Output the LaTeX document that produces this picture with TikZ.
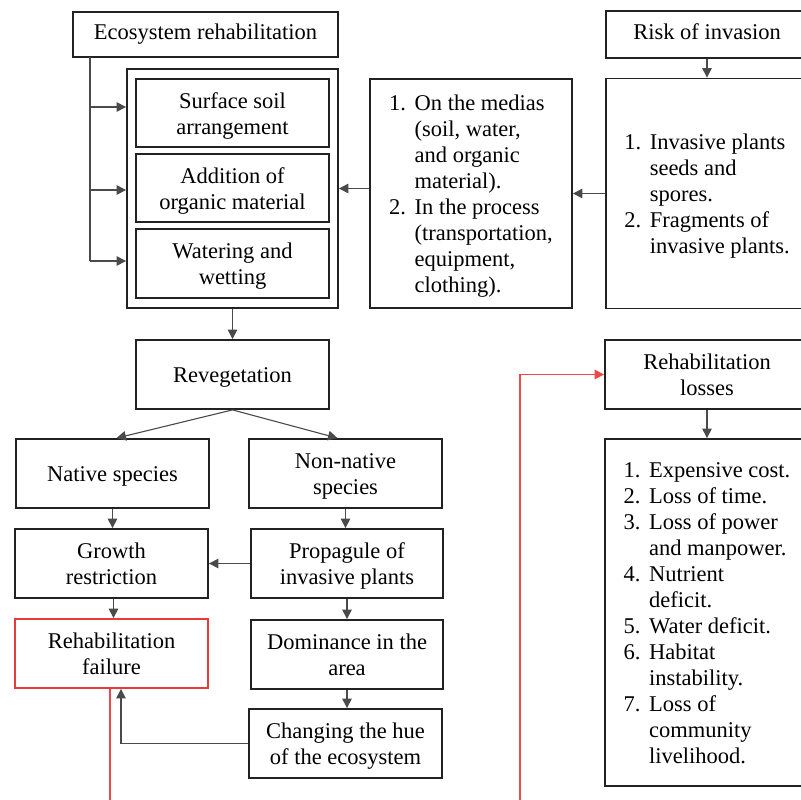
\documentclass[tikz,border=0pt]{standalone}
\usepackage{fontspec}
\setmainfont{Liberation Serif}
\usetikzlibrary{arrows.meta}
\definecolor{boxline}{HTML}{222222}
\definecolor{conn}{HTML}{4A4A4A}
\definecolor{redbox}{HTML}{E83A3A}
\definecolor{redline}{HTML}{F04848}
\newcommand{\itm}[1]{\makebox[25.5pt][l]{#1}}
\newcommand{\ind}{\hspace*{25.5pt}}
\newcommand{\vst}{\rule[-6pt]{0pt}{28pt}}
\tikzset{
  txt/.style={font=\fontsize{22.5}{26}\selectfont, execute at begin node=\vst, execute at end node=\vst},
  bx/.style={draw=boxline, line width=1.8pt, inner sep=0pt, align=center, txt, minimum width=#1},
  bx/.default=193pt,
  lst/.style={draw=boxline, line width=1.8pt, inner sep=0pt, align=left, txt, minimum width=202pt},
  arr/.style={draw=conn, line width=1.1pt, -{Triangle[length=9.5pt,width=9.5pt]}},
  ln/.style={draw=conn, line width=1.1pt},
  redarr/.style={draw=redline, line width=1.1pt, -{Triangle[length=9.5pt,width=9.5pt]}},
  redln/.style={draw=redline, line width=1.1pt}
}
\begin{document}
\begin{tikzpicture}[x=1pt,y=-1pt]
\useasboundingbox (0,0) rectangle (801,800);
\fill[white] (0,0) rectangle (801,800);

% top left
\node[bx=265pt, minimum height=45pt] (eco) at (205.5,34.5) {\raisebox{2.5pt}{Ecosystem rehabilitation}};
\node[draw=boxline, line width=1.8pt, minimum width=211pt, minimum height=239pt, inner sep=0pt] (outer) at (232.5,188.5) {};
\node[bx, minimum height=68pt] (surface) at (232.5,113) {\vst Surface soil\\arrangement};
\node[bx, minimum height=68pt] (addition) at (232.5,188) {\vst Addition of\\organic material};
\node[bx, minimum height=69pt] (watering) at (232.5,263.5) {\vst Watering and\\wetting};

% medias
\node[lst, minimum height=229pt] (medias) at (471,193.5)
 {\vst\itm{1.}On the medias\\\ind(soil, water,\\\ind and organic\\\ind material).\\
  \itm{2.}In the process\\\ind(transportation,\\\ind equipment,\\\ind clothing).};

% risk
\node[bx=202pt, minimum height=47pt] (risk) at (707,34.5) {\raisebox{3pt}{Risk of invasion}};
\node[lst, minimum height=230pt] (invasive) at (707,193.5)
 {\vst\itm{1.}Invasive plants\\\ind seeds and\\\ind spores.\\
  \itm{2.}Fragments of\\\ind invasive plants.};

% middle
\node[bx, minimum height=69pt] (reveg) at (232.5,374.5) {Revegetation};
\node[bx, minimum height=69pt] (native) at (112.5,473.5) {Native species};
\node[bx, minimum height=69pt] (nonnative) at (345.5,473.5) {\vst Non-native\\species};
\node[bx, minimum height=69pt] (growth) at (111.5,563.5) {\vst Growth\\restriction};
\node[bx=192pt, minimum height=69pt] (propagule) at (347,563.5) {\vst Propagule of\\invasive plants};
\node[bx, draw=redbox, minimum height=69pt] (failure) at (111.5,653.5) {\vst Rehabilitation\\failure};
\node[bx=192pt, minimum height=69pt] (dominance) at (347,654.5) {\vst Dominance in the\\area};
\node[bx, minimum height=69pt] (hue) at (345.5,743.5) {\vst Changing the hue\\of the ecosystem};

% losses
\node[bx=204pt, minimum height=69pt] (losses) at (707,374.5) {\vst Rehabilitation\\losses};
\node[lst, minimum width=204pt, minimum height=347pt] (losslist) at (707,612.5)
 {\vst\itm{1.}Expensive cost.\\\itm{2.}Loss of time.\\\itm{3.}Loss of power\\\ind and manpower.\\
  \itm{4.}Nutrient\\\ind deficit.\\\itm{5.}Water deficit.\\\itm{6.}Habitat\\\ind instability.\\
  \itm{7.}Loss of\\\ind community\\\ind livelihood.};

% coordinates
\coordinate (b0) at (90,57);
\coordinate (t1) at (90,107);
\coordinate (t2) at (90,190);
\coordinate (t3) at (90,261);
\coordinate (r1) at (110,810);
\coordinate (r2) at (520,810);

% connectors
\draw[ln] (b0) -- (t3);
\draw[arr] (t1) -- (t1 -| outer.west);
\draw[arr] (t2) -- (t2 -| outer.west);
\draw[arr] (t3) -- (t3 -| outer.west);
\draw[arr] (medias.west |- outer.east) -- (outer.east);
\draw[arr] (invasive.west) -- (medias.east);
\draw[arr] (risk.south) -- (invasive.north);
\draw[arr] (outer.south) -- (reveg.north);
\draw[arr] (reveg.south) -- ([xshift=4pt]native.north);
\draw[arr] (reveg.south) -- ([xshift=-8pt]nonnative.north);
\draw[arr] (native.south) -- (native.south |- growth.north);
\draw[arr] (nonnative.south) -- (nonnative.south |- propagule.north);
\draw[arr] (propagule.west) -- (growth.east);
\draw[arr] ([xshift=2pt]growth.south) -- ([xshift=2pt]failure.north);
\draw[arr] (propagule.south) -- (dominance.north);
\draw[arr] (dominance.south) -- (dominance.south |- hue.north);
\draw[arr] (hue.west) -| ([xshift=9.5pt]failure.south);
\draw[arr] (losses.south) -- (losslist.north);
\draw[redln] (failure.south -| r1) -- (r1);
\draw[redarr] (r2) |- (losses.west);
\end{tikzpicture}
\end{document}
